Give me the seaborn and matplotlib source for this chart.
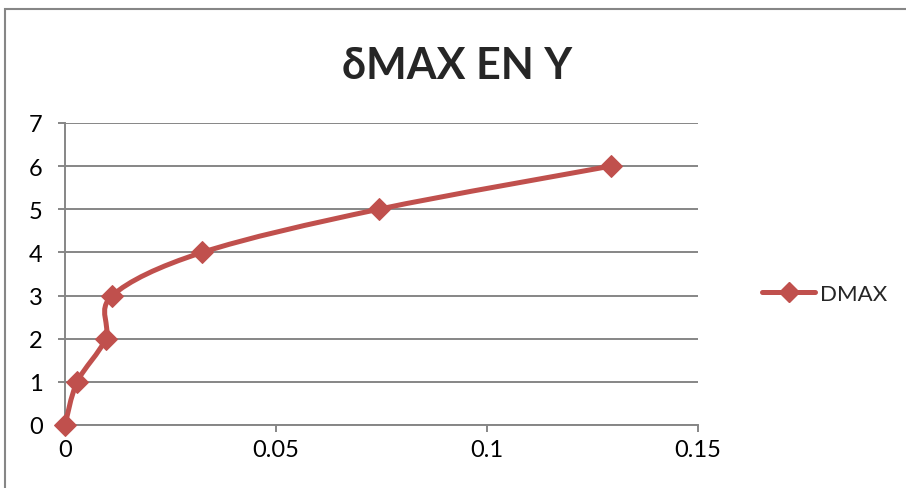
import seaborn as sns
import matplotlib.pyplot as plt
import pandas as pd
from matplotlib.path import Path
from matplotlib.patches import PathPatch, Rectangle
from matplotlib.lines import Line2D

# data
dmax = [0.0, 0.0029, 0.0096, 0.0112, 0.0325, 0.0743, 0.1293]
nivel = [0, 1, 2, 3, 4, 5, 6]
xticks = [0, 0.05, 0.1, 0.15]
xticklabels = ["0", "0.05", "0.1", "0.15"]
yticks = [0, 1, 2, 3, 4, 5, 6, 7]

df = pd.DataFrame({"DMAX": dmax, "nivel": nivel})

sns.set_style("white")
plt.rcParams["font.family"] = ["Lato", "DejaVu Sans"]

red = "#C0504D"
grey = "#868686"

fig = plt.figure(figsize=(9.06, 4.89), dpi=100)
ax = fig.add_axes([65 / 906, 1 - 426 / 489, 633 / 906, 302 / 489])

# smooth line like excel (bezier through the points)
pts = list(zip(df["DMAX"], df["nivel"]))
verts = [pts[0]]
codes = [Path.MOVETO]
for i in range(len(pts) - 1):
    p0 = pts[i - 1] if i > 0 else pts[i]
    p1 = pts[i]
    p2 = pts[i + 1]
    p3 = pts[i + 2] if i + 2 < len(pts) else pts[i + 1]
    c1 = (p1[0] + (p2[0] - p0[0]) / 6, p1[1] + (p2[1] - p0[1]) / 6)
    c2 = (p2[0] - (p3[0] - p1[0]) / 6, p2[1] - (p3[1] - p1[1]) / 6)
    verts += [c1, c2, p2]
    codes += [Path.CURVE4] * 3
ax.add_patch(PathPatch(Path(verts, codes), fill=False, edgecolor=red,
                       lw=3.6, capstyle="round", joinstyle="round",
                       zorder=3, clip_on=False))

sns.lineplot(data=df, x="DMAX", y="nivel", marker="D", linestyle="",
             markersize=11, color=red, markeredgecolor=red, ax=ax,
             zorder=4, legend=False, clip_on=False)

ax.set_xlim(0, 0.15)
ax.set_ylim(0, 7)
ax.set_xticks(xticks)
ax.set_xticklabels(xticklabels)
ax.set_yticks(yticks)
ax.set_xlabel("")
ax.set_ylabel("")
ax.grid(axis="y", color=grey, lw=1.4)
ax.set_axisbelow(True)
for s in ["top", "right"]:
    ax.spines[s].set_visible(False)
for s in ["left", "bottom"]:
    ax.spines[s].set_color(grey)
    ax.spines[s].set_linewidth(1.4)
ax.tick_params(axis="both", direction="out", length=5, width=1.4, color=grey,
               labelsize=17, labelcolor="black")
ax.tick_params(axis="y", pad=11, left=True)
ax.tick_params(axis="x", pad=5, bottom=True)

fig.text(0.504, 1 - 66 / 489, "\u03b4MAX EN Y", ha="center", va="center",
         fontsize=31, fontweight="bold")

handle = Line2D([], [], color=red, lw=3.6, marker="D", markersize=10,
                solid_capstyle="round")
fig.legend([handle], ["DMAX"], loc="center left",
           bbox_to_anchor=(742 / 906, 1 - 295 / 489), frameon=False,
           fontsize=16, handlelength=2.4, handletextpad=0.2)

fig.add_artist(Rectangle((5 / 906, -0.05), 1.0, 1 - 10 / 489 + 0.05,
                         transform=fig.transFigure, fill=False,
                         edgecolor=grey, lw=1.5))

fig.savefig("out.png", dpi=100)
